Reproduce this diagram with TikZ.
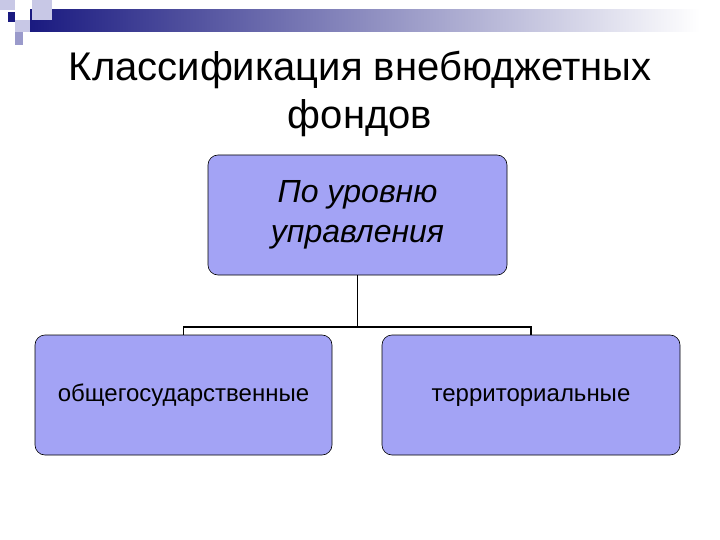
\documentclass[tikz,border=0pt]{standalone}
\usepackage{fontspec}
\setmainfont{Liberation Sans}
\begin{document}
\begin{tikzpicture}[x=1pt,y=-1pt,
  box/.style={draw=black, line width=0.6pt, fill=boxfill, rounded corners=10pt, inner sep=0pt},
  conn/.style={draw=black, line width=1.2pt}]
\definecolor{boxfill}{HTML}{A3A3F5}
\definecolor{navy}{HTML}{1A1A80}
\definecolor{sqA}{HTML}{C8C8E6}
\definecolor{sqB}{HTML}{9A9ACB}
\useasboundingbox (0,0) rectangle (720,540);
\fill[white] (0,0) rectangle (720,540);
% decoration
\shade[left color=navy, right color=white] (30,10) rectangle (700,32);
\fill[sqA] (0,0) rectangle (15,10);
\fill[sqA] (32,0) rectangle (52,20);
\fill[sqA] (15,20) rectangle (30,32);
\fill[sqB] (15,32) rectangle (23,45);
\fill[navy] (8,12) rectangle (15,22);
% title
\node (t) at (360,94) [align=center, font=\fontsize{40}{48}\selectfont] {Классификация внебюджетных\\фондов};
% boxes
\node (top) [box, minimum width=299pt, minimum height=120pt, align=center,
  font=\itshape\fontsize{32}{40}\selectfont] at (357.5,215) {По уровню\\управления};
\node (l) [box, minimum width=297pt, minimum height=120pt, text height=17pt, text depth=5pt,
  font=\fontsize{24}{28}\selectfont] at (183.5,395) {общегосударственные};
\node (r) [box, minimum width=298pt, minimum height=120pt, text height=17pt, text depth=5pt,
  font=\fontsize{24}{28}\selectfont] at (531,395) {территориальные};
\coordinate (j) at (357.5,327);
\draw[conn] (top.south) -- (j);
\draw[conn] (l.north) -- (l.north |- j) -- (r.north |- j) -- (r.north);
\end{tikzpicture}
\end{document}
